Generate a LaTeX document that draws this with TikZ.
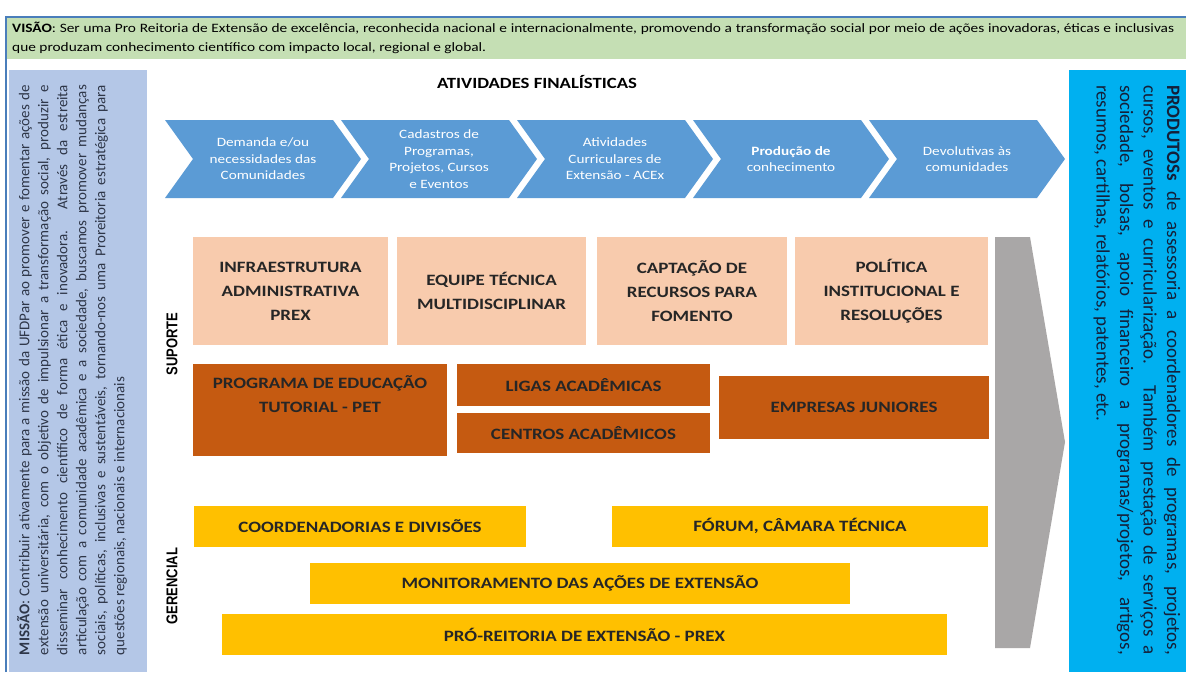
\documentclass[tikz,border=0pt]{standalone}
\usepackage{fontspec}
\setmainfont{Carlito}[FakeStretch=1.2]
\newfontfamily\panelfont{Carlito}
\newfontfamily\labelfont{Liberation Sans}[FakeStretch=0.833]
\usetikzlibrary{positioning}
\definecolor{visgreen}{HTML}{C5DFB4}
\definecolor{frameblue}{HTML}{4A7EBB}
\definecolor{misblue}{HTML}{B4C7E7}
\definecolor{prodblue}{HTML}{00B0F0}
\definecolor{chevblue}{HTML}{5B9BD5}
\definecolor{peach}{HTML}{F8CBAD}
\definecolor{rust}{HTML}{C55A11}
\definecolor{gold}{HTML}{FFC000}
\definecolor{arrowgray}{HTML}{A9A7A7}
\definecolor{inktext}{HTML}{262626}
\definecolor{mistext}{HTML}{2E3648}
\definecolor{prodtext}{HTML}{14203A}
\newcommand{\jline}[2]{\makebox[#1][s]{#2}}
\begin{document}
\begin{tikzpicture}[x=1pt, y=-1pt,
  box/.style={inner sep=0pt, align=center, text=inktext, font=\fontsize{15.8}{24}\selectfont\bfseries},
  peachbox/.style={box, fill=peach, minimum height=108pt},
  rustbox/.style={box, fill=rust},
  goldbox/.style={box, fill=gold, minimum height=41pt},
  chevtext/.style={align=center, text=white, inner sep=0pt, font=\fontsize{12.7}{16.5}\selectfont},
  sidelabel/.style={rotate=90, inner sep=0pt, font=\labelfont\fontsize{15.6}{18}\selectfont\bfseries}]
\useasboundingbox (0,0) rectangle (1186,672);
\fill[white] (0,0) rectangle (1186,672);
% frame and vision band
\fill[visgreen] (6,18) rectangle (1186,59);
\draw[frameblue, line width=2pt] (6,672) -- (6,17) -- (1186,17);
\node[anchor=north west, align=left, inner sep=0pt, font=\fontsize{12.8}{19}\selectfont] (visao) at (12,22)
  {\jline{1162pt}{\textbf{VISÃO}: Ser uma Pro Reitoria de Extensão de excelência, reconhecida nacional e internacionalmente, promovendo a transformação social por meio de ações inovadoras, éticas e inclusivas}\\
   que produzam conhecimento científico com impacto local, regional e global.};
% side panels
\fill[misblue] (9,70) rectangle (147,672);
\fill[prodblue] (1069,70) rectangle (1186,672);
\node[rotate=90, align=left, inner sep=0pt, text=mistext, font=\panelfont\fontsize{15}{19}\selectfont] (missao) at (72,370)
  {\jline{570pt}{\textbf{MISSÃO}: Contribuir ativamente para a missão da UFDPar ao promover e fomentar ações de}\\
   \jline{570pt}{extensão universitária, com o objetivo de impulsionar a transformação social, produzir e}\\
   \jline{570pt}{disseminar conhecimento científico de forma ética e inovadora. Através da estreita}\\
   \jline{570pt}{articulação com a comunidade acadêmica e a sociedade, buscamos promover mudanças}\\
   \jline{570pt}{sociais, políticas, inclusivas e sustentáveis, tornando-nos uma Proreitoria estratégica para}\\
   questões regionais, nacionais e internacionais};
\node[rotate=-90, align=left, inner sep=0pt, text=prodtext, font=\panelfont\fontsize{19}{23.5}\selectfont] (produtos) at (1137,370)
  {\jline{570pt}{\textbf{PRODUTOSs} de assessoria a coordenadores de programas, projetos,}\\
   \jline{570pt}{cursos, eventos e curricularização. Também prestação de serviços a}\\
   \jline{570pt}{sociedade, bolsas, apoio financeiro a programas/projetos, artigos,}\\
   resumos, cartilhas, relatórios, patentes, etc.};
% atividades finalisticas
\node[inner sep=0pt, text=black, font=\fontsize{15.6}{18}\selectfont\bfseries] (finalisticas) at (537,82) {ATIVIDADES FINALÍSTICAS};
\foreach \x/\t [count=\i] in {165/{Demanda e/ou\\necessidades das\\Comunidades},
    341/{Cadastros de\\Programas,\\Projetos, Cursos\\e Eventos},
    517/{Atividades\\Curriculares de\\Extensão - ACEx},
    693/{\bfseries Produção de\\conhecimento},
    869/{Devolutivas às\\comunidades}}{
  \fill[chevblue] (\x,120) -- ++(168,0) -- ++(28,39) -- ++(-28,39) -- ++(-168,0) -- ++(28,-39) -- cycle;
  \node[chevtext] (chev\i) at (\x+98,159) {\t};
}
% gray arrow
\fill[arrowgray] (995,237) -- (1030,237) -- (1065,442) -- (1030,648) -- (995,648) -- cycle;
% suporte
\node[sidelabel] (suporte) at (172,344) {SUPORTE};
\node[peachbox, minimum width=195pt] (infra) at (290.5,291) {INFRAESTRUTURA\\ADMINISTRATIVA\\PREX};
\node[peachbox, minimum width=189pt] (equipe) at (491.5,291) {EQUIPE TÉCNICA\\MULTIDISCIPLINAR};
\node[peachbox, minimum width=190pt] (captacao) at (692,291) {CAPTAÇÃO DE\\RECURSOS PARA\\FOMENTO};
\node[peachbox, minimum width=193pt] (politica) at (891.5,291) {POLÍTICA\\INSTITUCIONAL E\\RESOLUÇÕES};
\node[rustbox, minimum width=254pt, minimum height=92pt] (pet) at (320,410) {};
\node[box, below=12pt of pet.north] (pettext) {PROGRAMA DE EDUCAÇÃO\\TUTORIAL - PET};
\node[rustbox, minimum width=253pt, minimum height=42pt] (ligas) at (583.5,385) {LIGAS ACADÊMICAS};
\node[rustbox, minimum width=253pt, minimum height=40pt] (centros) at (583.5,433) {CENTROS ACADÊMICOS};
\node[rustbox, minimum width=270pt, minimum height=63pt] (empresas) at (854,407.5) {EMPRESAS JUNIORES};
% gerencial
\node[sidelabel] (gerencial) at (172,586) {GERENCIAL};
\node[goldbox, minimum width=332pt] (coord) at (360,526) {COORDENADORIAS E DIVISÕES};
\node[goldbox, minimum width=376pt] (forum) at (800,526) {FÓRUM, CÂMARA TÉCNICA};
\node[goldbox, minimum width=540pt] (monitor) at (580,583.5) {MONITORAMENTO DAS AÇÕES DE EXTENSÃO};
\node[goldbox, minimum width=725pt] (prex) at (584.5,634.5) {PRÓ-REITORIA DE EXTENSÃO - PREX};
\end{tikzpicture}
\end{document}
